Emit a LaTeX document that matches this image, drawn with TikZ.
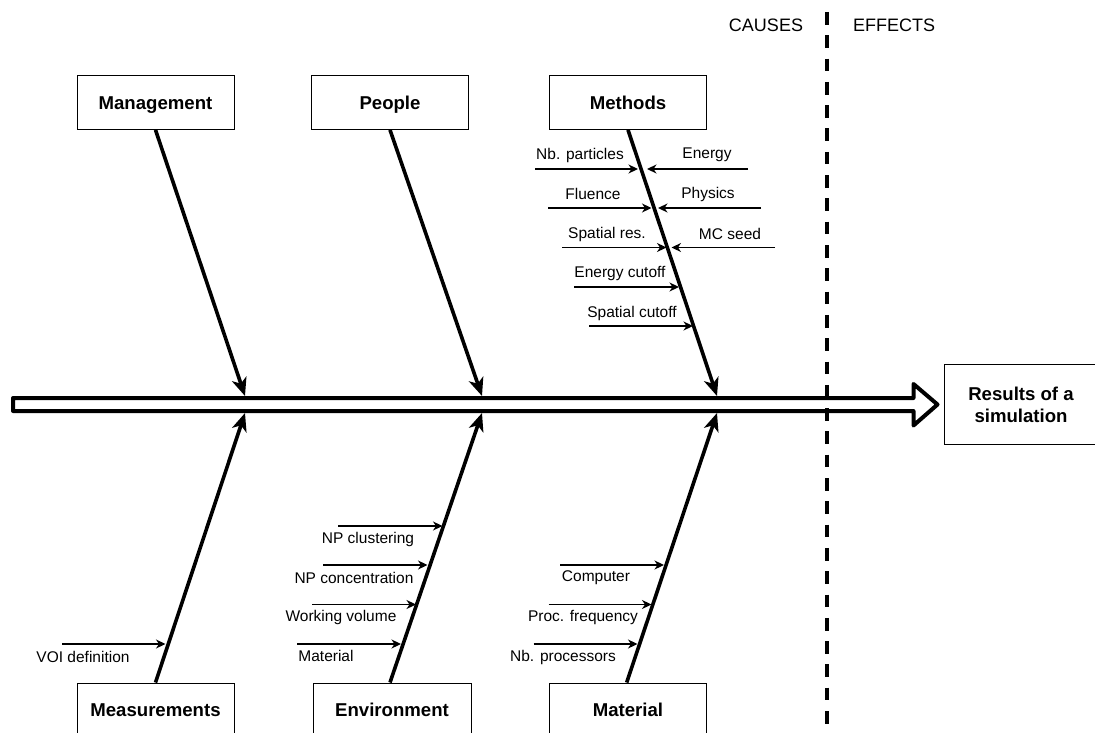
\documentclass[tikz,border=0pt]{standalone}
\usepackage{fontspec}
\setmainfont{Liberation Sans}
\usetikzlibrary{arrows.meta}
\begin{document}
\begin{tikzpicture}[x=1pt,y=-1pt,
  catbox/.style={draw,line width=1pt,minimum width=157pt,minimum height=54pt,inner sep=0pt,text height=13.3pt,text depth=0pt,font=\fontsize{18.6}{22}\selectfont\bfseries},
  bone/.style={line width=3.6pt,-{Stealth[length=18pt,width=15pt,inset=5pt]}},
  subarr/.style={line width=1.3pt,-{Stealth[length=9.5pt,width=9pt,inset=3pt]}},
  lbl/.style={font=\fontsize{15.5}{18}\selectfont,inner sep=0pt},
  hdr/.style={font=\fontsize{18}{21}\selectfont,inner sep=0pt}]
\useasboundingbox (0,0) rectangle (1095,733);

% header
\node[hdr] (causes) at (766,25) {CAUSES};
\node[hdr] (effects) at (894,25) {EFFECTS};

% main spine (big hollow arrow)
\draw[line width=4pt,line join=round] (13,398) -- (913.5,398) -- (913.5,384) -- (937.5,404.5) -- (913.5,425.5) -- (913.5,411) -- (13,411) -- cycle;

% divider
\draw[line width=4pt,dash pattern=on 12.7pt off 10.6pt] (827,12) -- (827,735);

% effect box
\node[draw,line width=1pt,anchor=west,minimum width=154pt,minimum height=80.5pt,inner sep=0pt,align=center,
  font=\fontsize{18.6}{22}\selectfont\bfseries] (res) at (943.5,404.7) {Results of a\\simulation};

% category boxes
\node[catbox] (mgmt) at (155.5,102.4) {Management};
\node[catbox] (people) at (390,102.4) {People};
\node[catbox] (meth) at (628,102.4) {Methods};
\node[catbox] (meas) at (155.5,710) {Measurements};
\node[catbox,minimum width=158pt] (env) at (392,710) {Environment};
\node[catbox] (mat) at (628,710) {Material};

% spine contact points
\coordinate (t1) at (245,396);
\coordinate (t2) at (482,396);
\coordinate (t3) at (717,396);
\coordinate (b1) at (245,413);
\coordinate (b2) at (482,413);
\coordinate (b3) at (717,413);

\draw[bone] (mgmt.south) -- (t1);
\draw[bone] (people.south) -- (t2);
\draw[bone] (meth.south) -- (t3);
\draw[bone] (meas.north) -- (b1);
\draw[bone] (env.north -| 390,0) -- (b2);
\draw[bone] (mat.north -| 626.7,0) -- (b3);

% Methods sub-causes
\coordinate (m1a) at (535,169);   \coordinate (m1b) at (638,169);
\coordinate (m1c) at (748,169);   \coordinate (m1d) at (647,169);
\coordinate (m2a) at (548,208);   \coordinate (m2b) at (651.5,208);
\coordinate (m2c) at (761,208);   \coordinate (m2d) at (658,208);
\coordinate (m3a) at (562,247.5); \coordinate (m3b) at (666.5,247.5);
\coordinate (m3c) at (775,247.5); \coordinate (m3d) at (671.5,247.5);
\coordinate (m4a) at (574,287);   \coordinate (m4b) at (679,287);
\coordinate (m5a) at (589,326);   \coordinate (m5b) at (693,326);
\draw[subarr] (m1a) -- (m1b);
\draw[subarr] (m1c) -- (m1d);
\draw[subarr] (m2a) -- (m2b);
\draw[subarr] (m2c) -- (m2d);
\draw[subarr] (m3a) -- (m3b);
\draw[subarr] (m3c) -- (m3d);
\draw[subarr] (m4a) -- (m4b);
\draw[subarr] (m5a) -- (m5b);
\node[lbl] (l1) at (580,155) {Nb. particles};
\node[lbl] (l2) at (707,155) {Energy};
\node[lbl] (l3) at (593,194) {Fluence};
\node[lbl] (l4) at (708,194) {Physics};
\node[lbl] (l5) at (607,234) {Spatial res.};
\node[lbl] (l6) at (730,234) {MC seed};
\node[lbl] (l7) at (620,273) {Energy cutoff};
\node[lbl] (l8) at (632,313) {Spatial cutoff};

% Environment sub-causes
\coordinate (e1a) at (338,526);   \coordinate (e1b) at (442.5,526);
\coordinate (e2a) at (323,565);   \coordinate (e2b) at (427.5,565);
\coordinate (e3a) at (312,604.5); \coordinate (e3b) at (416,604.5);
\coordinate (e4a) at (297,644);   \coordinate (e4b) at (401,644);
\draw[subarr] (e1a) -- (e1b);
\draw[subarr] (e2a) -- (e2b);
\draw[subarr] (e3a) -- (e3b);
\draw[subarr] (e4a) -- (e4b);
\node[lbl] (le1) at (368,539) {NP clustering};
\node[lbl] (le2) at (354,578) {NP concentration};
\node[lbl] (le3) at (341,617) {Working volume};
\node[lbl] (le4) at (326,656) {Material};

% Measurements sub-cause
\coordinate (v1a) at (62,644); \coordinate (v1b) at (165.5,644);
\draw[subarr] (v1a) -- (v1b);
\node[lbl] (lv1) at (83,657) {VOI definition};

% Material sub-causes
\coordinate (c1a) at (560,565);   \coordinate (c1b) at (664,565);
\coordinate (c2a) at (548.5,604.5); \coordinate (c2b) at (651.5,604.5);
\coordinate (c3a) at (533.5,644); \coordinate (c3b) at (637.5,644);
\draw[subarr] (c1a) -- (c1b);
\draw[subarr] (c2a) -- (c2b);
\draw[subarr] (c3a) -- (c3b);
\node[lbl] (lc1) at (596,578) {Computer};
\node[lbl] (lc2) at (583,617) {Proc. frequency};
\node[lbl] (lc3) at (563,657) {Nb. processors};
\end{tikzpicture}
\end{document}
